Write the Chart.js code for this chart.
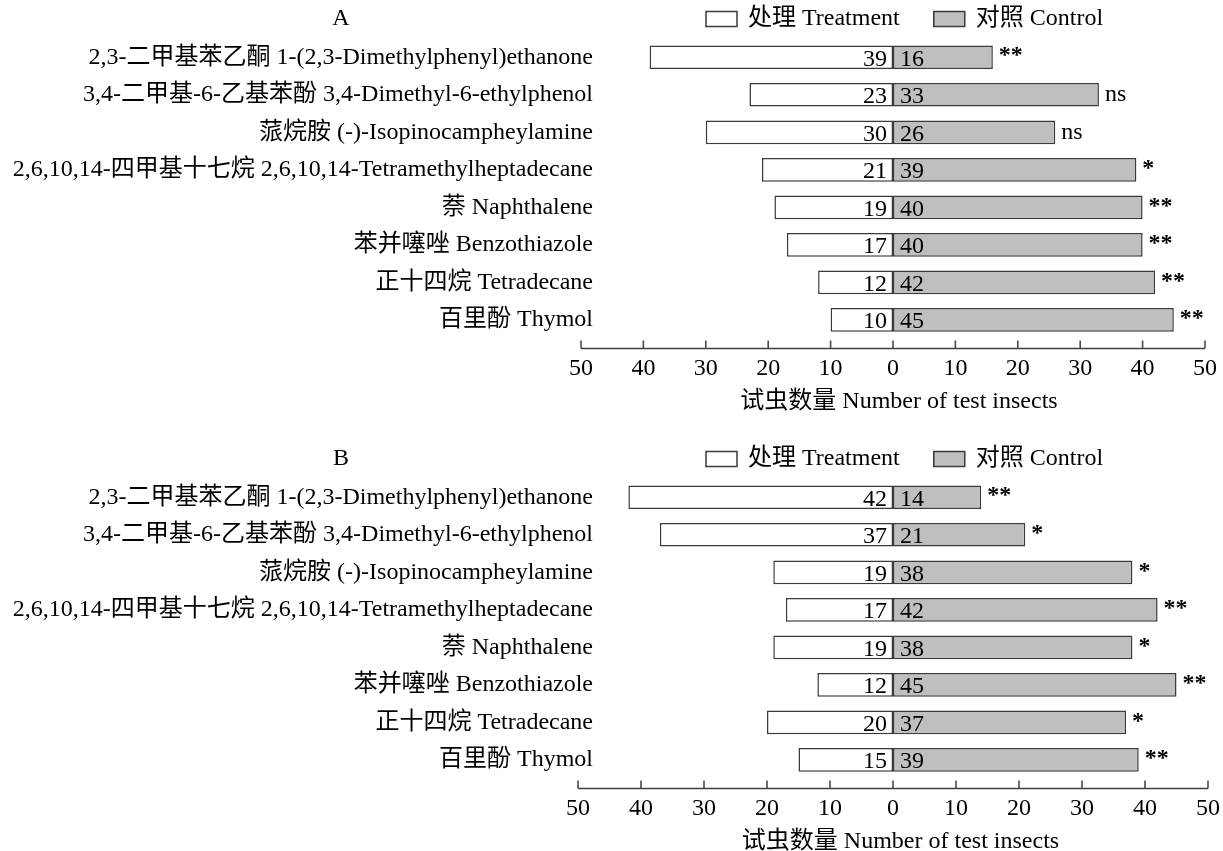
<!DOCTYPE html>
<html>
<head>
<meta charset="utf-8">
<script src="https://cdn.jsdelivr.net/npm/chart.js@4.4.1/dist/chart.umd.min.js"></script>
<style>
  html, body { margin: 0; padding: 0; background: #fff; overflow: hidden; }
  canvas { position: absolute; left: 0; }
</style>
</head>
<body>
<canvas id="chartA" width="1223" height="440" style="top:0"></canvas>
<canvas id="chartB" width="1223" height="440" style="top:440px"></canvas>
<script>
const FONT = "'Liberation Serif', 'Noto Sans CJK SC', serif";

const categories = [
  '2,3-二甲基苯乙酮 1-(2,3-Dimethylphenyl)ethanone',
  '3,4-二甲基-6-乙基苯酚 3,4-Dimethyl-6-ethylphenol',
  '蒎烷胺 (-)-Isopinocampheylamine',
  '2,6,10,14-四甲基十七烷 2,6,10,14-Tetramethylheptadecane',
  '萘 Naphthalene',
  '苯并噻唑 Benzothiazole',
  '正十四烷 Tetradecane',
  '百里酚 Thymol'
];

// panel A
const treatmentA = [39, 23, 30, 21, 19, 17, 12, 10];
const controlA = [16, 33, 26, 39, 40, 40, 42, 45];
const signifA = ['**', 'ns', 'ns', '*', '**', '**', '**', '**'];

// panel B
const treatmentB = [42, 37, 19, 17, 19, 12, 20, 15];
const controlB = [14, 21, 38, 42, 38, 45, 37, 39];
const signifB = ['**', '*', '*', '**', '*', '**', '*', '**'];

const xTicks = [-50, -40, -30, -20, -10, 0, 10, 20, 30, 40, 50];

Chart.defaults.font.family = FONT;
Chart.defaults.font.size = 24;
Chart.defaults.color = '#000';

const LABEL_RIGHT = 593;

function extras(letter, sig) {
  return {
    id: 'extras',
    afterDatasetsDraw(chart) {
      const ctx = chart.ctx;
      const xs = chart.scales.x;
      const area = chart.chartArea;
      const zero = xs.getPixelForValue(0);
      ctx.save();
      ctx.font = '24px ' + FONT;
      ctx.fillStyle = '#000';
      ctx.textBaseline = 'middle';

      // numbers in the bars
      chart.getDatasetMeta(0).data.forEach((bar, i) => {
        ctx.textAlign = 'right';
        ctx.fillText(Math.abs(chart.data.datasets[0].data[i]), zero - 6, bar.y + 2);
      });
      chart.getDatasetMeta(1).data.forEach((bar, i) => {
        ctx.textAlign = 'left';
        ctx.font = '24px ' + FONT;
        ctx.fillText(chart.data.datasets[1].data[i], zero + 7, bar.y + 2);
        if (sig[i] === 'ns') {
          ctx.fillText(sig[i], bar.x + 6, bar.y);
        } else {
          ctx.font = 'bold 24px ' + FONT;
          ctx.fillText(sig[i], bar.x + 6, bar.y - 1);
        }
      });

      // x axis line, ticks point up
      const axisY = Math.round(area.bottom + 9.5) + 0.5;
      const x0 = xs.getPixelForValue(xTicks[0]);
      const x1 = xs.getPixelForValue(xTicks[xTicks.length - 1]);
      ctx.strokeStyle = '#404040';
      ctx.lineWidth = 1.5;
      ctx.beginPath();
      ctx.moveTo(x0, axisY);
      ctx.lineTo(x1, axisY);
      xs.ticks.forEach(t => {
        const px = xs.getPixelForValue(t.value);
        ctx.moveTo(px, axisY);
        ctx.lineTo(px, axisY - 8);
      });
      ctx.stroke();

      // panel letter
      ctx.font = '24px ' + FONT;
      ctx.fillStyle = '#000';
      ctx.textAlign = 'center';
      ctx.fillText(letter, 341, 19);

      // legend
      let x = 706;
      chart.data.datasets.forEach(ds => {
        ctx.fillStyle = ds.backgroundColor;
        ctx.strokeStyle = ds.borderColor;
        ctx.lineWidth = 1.5;
        ctx.fillRect(x, 11.5, 31, 15);
        ctx.strokeRect(x, 11.5, 31, 15);
        ctx.fillStyle = '#000';
        ctx.textAlign = 'left';
        ctx.fillText(ds.label, x + 42, 19);
        x += 42 + ctx.measureText(ds.label).width + 34;
      });
      ctx.restore();
    }
  };
}

function makeChart(id, treatment, control, sig, letter, left, right) {
  // -50 sits at pixel "left" (just left of the plot area), labels end at LABEL_RIGHT
  const unit = (right - left) / 100;
  const xMin = -50 + (LABEL_RIGHT - left) / unit;
  return new Chart(document.getElementById(id), {
    type: 'bar',
    data: {
      labels: categories,
      datasets: [
        {
          label: '处理 Treatment',
          data: treatment.map(v => -v),
          backgroundColor: '#ffffff',
          borderColor: '#3a3a3a',
          borderWidth: 1.5,
          borderSkipped: false
        },
        {
          label: '对照 Control',
          data: control,
          backgroundColor: '#c1bec1',
          borderColor: '#3a3a3a',
          borderWidth: 1.5,
          borderSkipped: false
        }
      ]
    },
    options: {
      indexAxis: 'y',
      responsive: false,
      animation: false,
      layout: { padding: { top: 38.5, bottom: 24, left: 0, right: 1223 - right } },
      plugins: { legend: { display: false }, tooltip: { enabled: false } },
      datasets: { bar: { barPercentage: 0.63, categoryPercentage: 1 } },
      scales: {
        x: {
          stacked: true,
          min: xMin,
          max: 50,
          afterBuildTicks: s => { s.ticks = xTicks.map(v => ({ value: v })); },
          afterFit: s => { s.height = 77.3; s.paddingLeft = 0; s.paddingRight = 0; },
          ticks: { padding: 16, autoSkip: false, maxRotation: 0, callback: v => Math.abs(v) },
          grid: { display: false, drawTicks: false },
          border: { display: false },
          title: {
            display: true,
            text: '试虫数量 Number of test insects',
            padding: { top: 4, bottom: 0 }
          }
        },
        y: {
          stacked: true,
          grid: { display: false, drawTicks: false },
          border: { display: false },
          ticks: { padding: 0, autoSkip: false },
          afterFit: s => { s.width = LABEL_RIGHT; }
        }
      }
    },
    plugins: [extras(letter, sig)]
  });
}

makeChart('chartA', treatmentA, controlA, signifA, 'A', 581, 1205);
makeChart('chartB', treatmentB, controlB, signifB, 'B', 578, 1208);
</script>
</body>
</html>
